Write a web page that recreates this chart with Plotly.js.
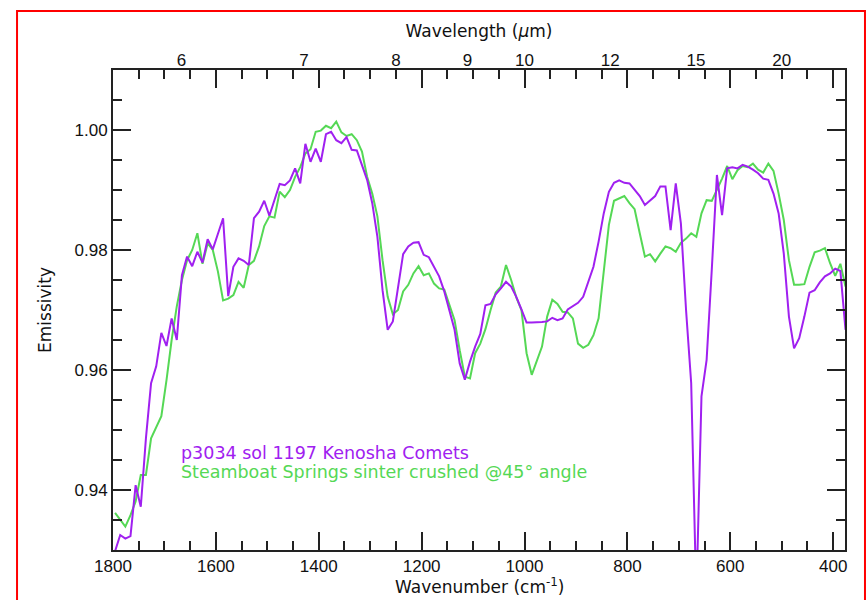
<!DOCTYPE html>
<html>
<head>
<meta charset="utf-8">
<script src="https://cdn.plot.ly/plotly-3.0.1.min.js"></script>
<style>html,body{margin:0;padding:0;background:#fff;}#chart{width:867px;height:600px;}</style>
</head>
<body>
<div id="chart"></div>
<script>
// Wavenumber (cm^-1) sample positions
const wavenumber = [
  1796,1786,1776,1766,1756,1746,1736,1726,1716,1706,
  1696,1686,1676,1666,1656,1646,1636,1626,1616,1606,
  1596,1586,1576,1566,1556,1546,1536,1526,1516,1506,
  1496,1486,1476,1466,1456,1446,1436,1426,1416,1406,
  1396,1386,1376,1366,1356,1346,1336,1326,1316,1306,
  1296,1286,1276,1266,1256,1246,1236,1226,1216,1206,
  1196,1186,1176,1166,1156,1146,1136,1126,1116,1106,
  1096,1086,1076,1066,1056,1046,1036,1026,1016,1006,
  996,986,976,966,956,946,936,926,916,906,
  896,886,876,866,856,846,836,826,816,806,
  796,786,776,766,756,746,736,726,716,706,
  696,686,676,666,656,646,636,626,616,606,
  596,586,576,566,556,546,536,526,516,506,
  496,486,476,466,456,446,436,426,416,406,
  396,386,376
];

// p3034 sol 1197 Kenosha Comets
const kenosha = [
  0.9298,0.9325,0.9319,0.9323,0.9408,0.9372,0.9486,0.9578,0.9606,0.9662,
  0.9640,0.9686,0.9650,0.9758,0.9789,0.9773,0.9797,0.9779,0.9818,0.9801,
  0.9827,0.9853,0.9723,0.9772,0.9786,0.9782,0.9775,0.9853,0.9864,0.9882,
  0.9857,0.9883,0.9910,0.9908,0.9916,0.9936,0.9911,0.9977,0.9947,0.9969,
  0.9947,0.9993,0.9997,0.9983,0.9978,0.9988,0.9967,0.9966,0.9942,0.9917,
  0.9878,0.9822,0.9733,0.9667,0.9681,0.9739,0.9793,0.9806,0.9812,0.9813,
  0.9792,0.9788,0.9772,0.9756,0.9731,0.9700,0.9667,0.9611,0.9584,0.9614,
  0.9639,0.9660,0.9708,0.9710,0.9726,0.9736,0.9747,0.9739,0.9722,0.9701,
  0.9679,0.9679,0.9679,0.9680,0.9681,0.9687,0.9683,0.9686,0.9701,0.9707,
  0.9712,0.9722,0.9746,0.9772,0.9814,0.9861,0.9897,0.9912,0.9916,0.9912,
  0.9911,0.9900,0.9890,0.9875,0.9883,0.9890,0.9906,0.9906,0.9833,0.9911,
  0.9844,0.9700,0.9578,0.9220,0.9556,0.9617,0.9767,0.9925,0.9858,0.9936,
  0.9938,0.9936,0.9942,0.9939,0.9934,0.9928,0.9919,0.9917,0.9894,0.9861,
  0.9794,0.9689,0.9636,0.9653,0.9689,0.9729,0.9733,0.9746,0.9756,0.9761,
  0.9769,0.9765,0.9667
];

// Steamboat Springs sinter crushed @45° angle
const steamboat = [
  0.9362,0.9351,0.9339,0.9358,0.9381,0.9425,0.9425,0.9486,0.9506,0.9523,
  0.9583,0.9650,0.9706,0.9750,0.9783,0.9800,0.9828,0.9777,0.9811,0.9800,
  0.9764,0.9716,0.9719,0.9725,0.9747,0.9737,0.9775,0.9782,0.9806,0.9840,
  0.9856,0.9854,0.9897,0.9888,0.9900,0.9922,0.9938,0.9961,0.9968,0.9997,
  0.9999,1.0007,1.0003,1.0014,0.9996,0.9990,0.9993,0.9983,0.9964,0.9922,
  0.9894,0.9856,0.9783,0.9722,0.9693,0.9700,0.9731,0.9742,0.9761,0.9773,
  0.9758,0.9761,0.9744,0.9736,0.9734,0.9708,0.9683,0.9633,0.9589,0.9586,
  0.9628,0.9644,0.9668,0.9700,0.9729,0.9739,0.9775,0.9750,0.9721,0.9700,
  0.9628,0.9592,0.9616,0.9639,0.9689,0.9717,0.9710,0.9697,0.9696,0.9686,
  0.9644,0.9637,0.9642,0.9658,0.9686,0.9767,0.9842,0.9882,0.9886,0.9890,
  0.9878,0.9868,0.9828,0.9789,0.9793,0.9781,0.9794,0.9806,0.9803,0.9797,
  0.9812,0.9819,0.9828,0.9822,0.9861,0.9883,0.9882,0.9900,0.9919,0.9940,
  0.9918,0.9933,0.9940,0.9938,0.9944,0.9934,0.9929,0.9944,0.9932,0.9894,
  0.9850,0.9783,0.9742,0.9742,0.9743,0.9772,0.9796,0.9799,0.9803,0.9778,
  0.9757,0.9777,0.9739
];

// Top axis wavelength labels (micrometres)
const wavelengthLabels = [6, 7, 8, 9, 10, 12, 15, 20];

const seriesNames = ['p3034 sol 1197 Kenosha Comets', 'Steamboat Springs sinter crushed @45° angle'];
const purple = '#A020F0';
const green = '#55D855';
const axisColor = '#222';
const xRange = [1800, 377];

const traces = [
  {x: wavenumber, y: steamboat, type: 'scatter', mode: 'lines', name: seriesNames[1],
   line: {color: green, width: 2}, xaxis: 'x', yaxis: 'y'},
  {x: wavenumber, y: kenosha, type: 'scatter', mode: 'lines', name: seriesNames[0],
   line: {color: purple, width: 2}, xaxis: 'x', yaxis: 'y'},
  {x: [], y: [], type: 'scatter', mode: 'lines', xaxis: 'x2', yaxis: 'y', showlegend: false, hoverinfo: 'skip'}
];

const tickFont = {family: 'Liberation Sans, Arial, sans-serif', size: 17, color: '#111'};
const titleFont = {family: 'DejaVu Sans, sans-serif', size: 17, color: '#111'};

const layout = {
  width: 867, height: 600,
  margin: {l: 113, r: 22, t: 70, b: 50, pad: 0},
  paper_bgcolor: '#fff', plot_bgcolor: '#fff',
  showlegend: false,
  xaxis: {
    range: xRange, autorange: false,
    tickmode: 'linear', tick0: 0, dtick: 200,
    ticks: 'inside', ticklen: 18, tickwidth: 2, tickcolor: axisColor,
    minor: {dtick: 50, tick0: 0, ticks: 'inside', ticklen: 9, tickwidth: 2, tickcolor: axisColor, showgrid: false},
    showline: true, linewidth: 2, linecolor: axisColor, mirror: 'ticks',
    showgrid: false, zeroline: false,
    tickfont: tickFont
  },
  xaxis2: {
    overlaying: 'x', side: 'top', anchor: 'y',
    range: xRange, autorange: false,
    tickmode: 'array',
    tickvals: wavelengthLabels.map(l => 1e4 / l),
    ticktext: wavelengthLabels.map(String),
    ticks: '', showline: false, showgrid: false, zeroline: false,
    tickfont: tickFont,
    title: {text: 'Wavelength (<i>µ</i>m)', font: titleFont, standoff: 8}
  },
  yaxis: {
    range: [0.93, 1.01], autorange: false,
    tickmode: 'linear', tick0: 0, dtick: 0.02, tickformat: '.2f',
    ticks: 'inside', ticklen: 18, tickwidth: 2, tickcolor: axisColor,
    minor: {dtick: 0.005, tick0: 0, ticks: 'inside', ticklen: 9, tickwidth: 2, tickcolor: axisColor, showgrid: false},
    showline: true, linewidth: 2, linecolor: axisColor, mirror: 'ticks',
    showgrid: false, zeroline: false,
    tickfont: tickFont,
    title: {text: 'Emissivity', font: titleFont, standoff: 19}
  },
  annotations: [
    {xref: 'paper', yref: 'paper', x: 0.5, y: -0.074, xanchor: 'center', yanchor: 'middle',
     text: 'Wavenumber (cm<sup>-1</sup>)', showarrow: false, font: titleFont},
    {xref: 'paper', yref: 'paper', x: 0.0902, y: 0.2021, xanchor: 'left', yanchor: 'middle',
     text: seriesNames[0], showarrow: false, font: {family: 'DejaVu Sans, sans-serif', size: 17.5, color: purple}},
    {xref: 'paper', yref: 'paper', x: 0.0902, y: 0.1625, xanchor: 'left', yanchor: 'middle',
     text: seriesNames[1], showarrow: false, font: {family: 'DejaVu Sans, sans-serif', size: 17.5, color: green}}
  ],
  shapes: [
    {type: 'rect', xref: 'paper', yref: 'paper', x0: -0.1311, x1: 1.0273, y0: -0.12, y1: 1.1229,
     line: {color: '#FF0000', width: 2}, fillcolor: 'rgba(0,0,0,0)', layer: 'above'}
  ]
};

Plotly.newPlot('chart', traces, layout, {displayModeBar: false, staticPlot: true});
</script>
</body>
</html>
